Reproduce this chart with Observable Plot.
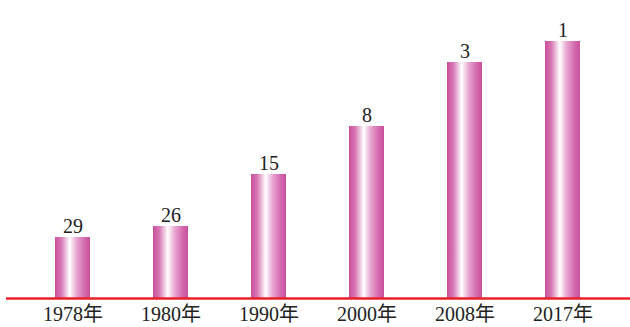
<!DOCTYPE html>
<html>
<head>
<meta charset="utf-8">
<script src="https://cdn.jsdelivr.net/npm/d3@7"></script>
<script src="https://cdn.jsdelivr.net/npm/@observablehq/plot@0.6"></script>
<style>
  html, body { margin: 0; padding: 0; background: #fff; }
  svg { display: block; }
</style>
</head>
<body>
<div id="chart"></div>
<script>
const years = ["1978年", "1980年", "1990年", "2000年", "2008年", "2017年"];
const ranks = [29, 26, 15, 8, 3, 1];
const barHeights = [61, 72, 124, 172, 236, 257];

const data = years.map((y, i) => ({year: y, rank: ranks[i], h: barHeights[i]}));

const serif = "'Liberation Serif', 'Times New Roman', 'Noto Sans CJK SC', serif";

const gradientDefs = () => {
  const defs = d3.create("svg:defs");
  const g = defs.append("linearGradient")
    .attr("id", "barGrad").attr("x1", "0").attr("x2", "1").attr("y1", "0").attr("y2", "0");
  [["0%", "#c9509c"], ["18%", "#d877b5"], ["42%", "#ffffff"], ["62%", "#e7a6d0"], ["85%", "#d468ae"], ["100%", "#c9509c"]]
    .forEach(([o, c]) => g.append("stop").attr("offset", o).attr("stop-color", c));
  return defs.node();
};

const chart = Plot.plot({
  width: 630,
  height: 327,
  marginLeft: 6,
  marginRight: 0,
  marginTop: 20,
  marginBottom: 29,
  style: {fontFamily: serif, background: "#fff"},
  x: {domain: years, paddingInner: 0.64, paddingOuter: 0.48, label: null},
  y: {domain: [0, 278], axis: null},
  marks: [
    gradientDefs,
    Plot.barY(data, {x: "year", y: "h", fill: "url(#barGrad)"}),
    Plot.text(data, {x: "year", y: "h", text: d => String(d.rank), lineAnchor: "bottom", dy: -5, fontSize: 20, fill: "#222", fontFamily: serif}),
    Plot.ruleY([0], {stroke: "#e8202a", strokeWidth: 2.5}),
    Plot.axisX({tickSize: 0, tickPadding: 8, fontSize: 20, fill: "#222", fontFamily: serif, label: null})
  ]
});
document.getElementById("chart").append(chart);
</script>
</body>
</html>
